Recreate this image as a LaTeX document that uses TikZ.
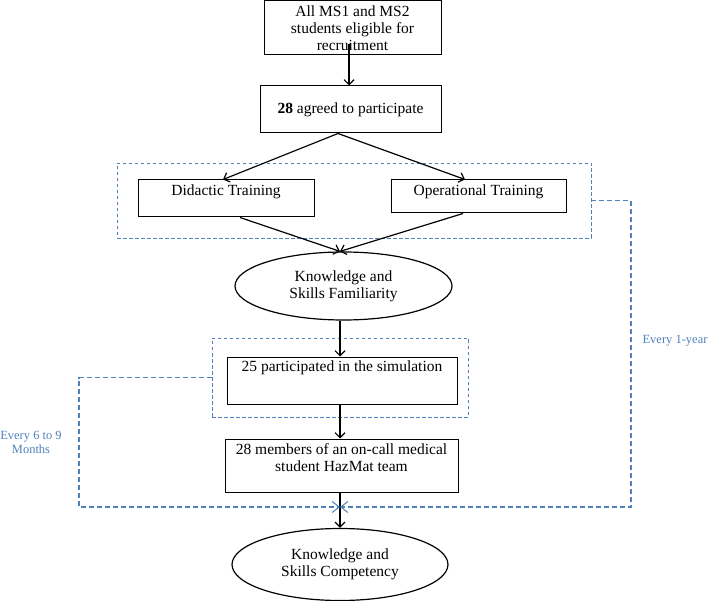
\documentclass[tikz,border=0pt]{standalone}
\usepackage{fontspec}
\setmainfont{Liberation Serif}
\usetikzlibrary{arrows.meta,shapes.geometric,calc}
\definecolor{dblue}{RGB}{79,129,189}
\newcommand\upbox[2]{\raisebox{#1}[\height][\depth]{#2}}
\begin{document}
\begin{tikzpicture}[x=1pt,y=-1pt,
  font=\fontsize{15.5}{17}\selectfont,
  box/.style={draw=black, line width=1pt, rectangle, inner sep=0pt, align=center},
  oval/.style={draw=black, line width=1.2pt, ellipse, inner sep=0pt, align=center},
  dbox/.style={draw=dblue, line width=0.9pt, dash pattern=on 3.5pt off 2.5pt, rectangle, inner sep=0pt},
  arr/.style={draw=black, line width=1.2pt, -{Straight Barb[length=5pt,width=10pt]}},
  barr/.style={draw=dblue, line width=1.1pt, dash pattern=on 5pt off 3pt, -{Straight Barb[length=7pt,width=11pt,line width=1pt]}},
  lab/.style={text=dblue, font=\fontsize{12.5}{14}\selectfont, align=center, inner sep=0pt},
]
\useasboundingbox (0,0) rectangle (709,601);
% dashed frames
\node[dbox, minimum width=474pt, minimum height=75pt] (dash1) at (354,200.5) {};
\node[dbox, minimum width=256pt, minimum height=79pt] (dash2) at (340,377.5) {};
% boxes
\node[box, minimum width=177pt, minimum height=54pt] (top) at (352.5,28) {All MS1 and MS2\\students eligible for\\recruitment};
\node[box, minimum width=181pt, minimum height=47pt] (agree) at (350.5,109.5) {\textbf{28} agreed to participate};
\node[box, minimum width=176pt, minimum height=37pt] (did) at (226,198.5) {\upbox{6.5pt}{Didactic Training}};
\node[box, minimum width=175pt, minimum height=33pt] (op) at (478.5,196.5) {\upbox{4.5pt}{Operational Training}};
\node[oval, minimum width=217pt, minimum height=68pt] (fam) at (343.5,286) {Knowledge and\\Skills Familiarity};
\node[box, minimum width=230pt, minimum height=47pt] (sim) at (342,380.5) {\upbox{12.5pt}{25 participated in the simulation}};
\node[box, minimum width=233pt, minimum height=53pt] (haz) at (341.5,465.5) {\upbox{6pt}{\begin{tabular}{@{}c@{}}28 members of an on-call medical\\student HazMat team\end{tabular}}};
\node[oval, minimum width=216pt, minimum height=72pt] (comp) at (340,564.5) {Knowledge and\\Skills Competency};
% connectors
\draw[arr] ([xshift=-3.5pt,yshift=11pt]top.south) -- ([xshift=-3.5pt]top.south |- agree.north);
\draw[arr] ([xshift=-12.5pt]agree.south) -- ([xshift=-3pt]did.north);
\draw[arr] ([xshift=-12.5pt]agree.south) -- ([xshift=-13.5pt]op.north);
\draw[arr] ([xshift=14pt]did.south) -- ([xshift=-3.5pt]fam.north);
\draw[arr] ([xshift=-15.5pt]op.south) -- ([xshift=-3.5pt]fam.north);
\draw[arr] ([xshift=-3.5pt]fam.south) -- ([xshift=-3.5pt]fam.south |- sim.north);
\draw[arr] ([xshift=-2pt]sim.south) -- ([xshift=-2pt]sim.south |- haz.north);
\draw[arr] ([xshift=-1.5pt]haz.south) -- (comp.north);
% feedback loops
\coordinate (meet) at (340,507);
\coordinate (rc) at (631,507);
\coordinate (lc) at (79,507);
\draw[barr] (dash1.east) -| (rc) -- (meet);
\draw[barr] (dash2.west) -| (lc) -- (meet);
\node[lab] (l1) at (675,341) {Every 1-year};
\node[lab] (l2) at (31,442) {Every 6 to 9\\Months};
\end{tikzpicture}
\end{document}
